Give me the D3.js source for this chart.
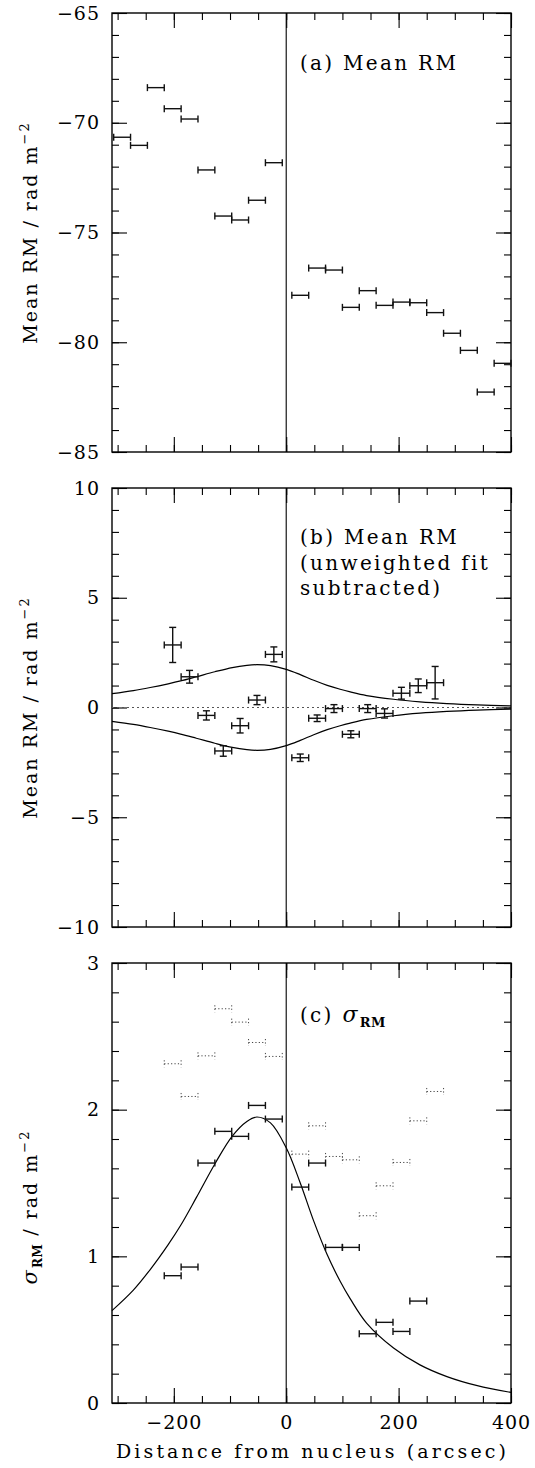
<!DOCTYPE html>
<html><head><meta charset="utf-8">
<script src="https://cdn.jsdelivr.net/npm/d3@7"></script>
<style>body{margin:0;background:#fff}svg{display:block}text{font-family:"DejaVu Serif",serif;fill:#000}</style>
</head><body><svg id="chart" width="535" height="1468"></svg>
<script>
// ---------- data ----------
const binHalf = 15; // arcsec half-width of each bin
// (a) Mean RM
const xA = [-292,-262,-232,-202,-172,-142,-112,-82,-52,-22,25,55,85,115,145,175,205,235,265,295,325,355,385];
const meanA = [-70.66,-71.03,-68.40,-69.36,-69.83,-72.15,-74.25,-74.43,-73.53,-71.82,-77.86,-76.62,-76.71,-78.41,-77.65,-78.32,-78.17,-78.20,-78.65,-79.59,-80.37,-82.27,-80.96];
// (b) Mean RM, fit subtracted
const xB = [-202,-172,-142,-112,-82,-52,-22,25,55,85,115,145,175,205,235,265];
const valB = [2.85,1.40,-0.36,-1.98,-0.83,0.34,2.42,-2.29,-0.49,-0.05,-1.22,-0.05,-0.27,0.65,0.99,1.13];
const errB = [0.80,0.29,0.21,0.24,0.33,0.21,0.34,0.17,0.15,0.18,0.16,0.18,0.21,0.27,0.31,0.74];
// (c) sigma RM
const xC = [-202,-172,-142,-112,-82,-52,-22,25,55,85,115,145,175,205,235];
const sigC = [0.868,0.927,1.636,1.852,1.818,2.029,1.936,1.472,1.636,1.061,1.061,0.472,0.55,0.488,0.695];
const xD = [-202,-172,-142,-112,-82,-52,-22,25,55,85,115,145,175,205,235,265];
const dotD = [2.313,2.09,2.367,2.688,2.597,2.458,2.363,1.697,1.89,1.681,1.658,1.277,1.481,1.64,1.924,2.124];
// model curve
const modelX = [-310,-272,-242,-210,-188,-160,-127,-96,-70,-52,-28,0,25,49,73,96,114,143,191,238,286,340,400];
const modelY = [0.63,0.77,0.91,1.08,1.21,1.40,1.63,1.82,1.92,1.95,1.91,1.74,1.50,1.24,1.01,0.83,0.71,0.545,0.375,0.26,0.18,0.118,0.072];
// tick labels
const xTickLabels = [-200,0,200,400];

// ---------- layout ----------
const svg = d3.select("#chart");
const X0 = 112, X1 = 511;
const x = d3.scaleLinear().domain([-310,400]).range([X0,X1]);
const FS = 19;

const panels = [
  {top:13, bot:452, dom:[-85,-65], major:5, minor:1},
  {top:488, bot:927, dom:[-10,10], major:5, minor:1},
  {top:963, bot:1403, dom:[0,3], major:1, minor:0.2}
];
panels.forEach(p => { p.y = d3.scaleLinear().domain(p.dom).range([p.bot,p.top]); });

function vals(dom, step){
  const out=[]; const n0=Math.ceil(dom[0]/step-1e-9), n1=Math.floor(dom[1]/step+1e-9);
  for(let i=n0;i<=n1;i++) out.push(+(i*step).toFixed(6));
  return out;
}
const xMinor = vals([-310,400],50), xMajor = xTickLabels;

function styleAxis(g){
  g.select(".domain").remove();
  g.selectAll("line").attr("stroke","#000").attr("stroke-width",1.1);
  g.attr("font-family",null).attr("font-size",FS);
  g.selectAll("text").attr("fill","#000").style("letter-spacing","1px");
}

panels.forEach((p,i) => {
  const g = svg.append("g");
  const y = p.y;
  const yMinor = vals(p.dom,p.minor), yMajor = vals(p.dom,p.major);
  g.append("g").attr("transform",`translate(0,${p.bot})`).call(d3.axisBottom(x).tickValues(xMinor).tickSize(-7).tickFormat("")).call(styleAxis);
  const xb = g.append("g").attr("transform",`translate(0,${p.bot})`).call(d3.axisBottom(x).tickValues(xMajor).tickSize(-15).tickPadding(13).tickFormat(i===2?d3.format(""):""));
  styleAxis(xb);
  g.append("g").attr("transform",`translate(0,${p.top})`).call(d3.axisTop(x).tickValues(xMinor).tickSize(-7).tickFormat("")).call(styleAxis);
  g.append("g").attr("transform",`translate(0,${p.top})`).call(d3.axisTop(x).tickValues(xMajor).tickSize(-15).tickFormat("")).call(styleAxis);
  g.append("g").attr("transform",`translate(${X0},0)`).call(d3.axisLeft(y).tickValues(yMinor).tickSize(-7).tickFormat("")).call(styleAxis);
  g.append("g").attr("transform",`translate(${X0},0)`).call(d3.axisLeft(y).tickValues(yMajor).tickSize(-15).tickPadding(12).tickFormat(d3.format(""))).call(styleAxis);
  g.append("g").attr("transform",`translate(${X1},0)`).call(d3.axisRight(y).tickValues(yMinor).tickSize(-7).tickFormat("")).call(styleAxis);
  g.append("g").attr("transform",`translate(${X1},0)`).call(d3.axisRight(y).tickValues(yMajor).tickSize(-15).tickFormat("")).call(styleAxis);
  g.append("rect").attr("x",X0).attr("y",p.top).attr("width",X1-X0).attr("height",p.bot-p.top)
    .attr("fill","none").attr("stroke","#000").attr("stroke-width",1.4);
  g.append("line").attr("x1",x(0)).attr("x2",x(0)).attr("y1",p.top).attr("y2",p.bot).attr("stroke","#000").attr("stroke-width",1.1);
});

function hbars(g, xs, ys, y, opts={}){
  const sel = g.selectAll(null).data(xs.map((c,i)=>({c,v:ys[i]}))).enter().append("g")
    .attr("stroke", opts.color||"#111").attr("stroke-width", opts.w||1.4).attr("fill","none");
  if(opts.dash) sel.attr("stroke-dasharray",opts.dash);
  sel.append("line").attr("x1",d=>x(d.c-binHalf)).attr("x2",d=>x(d.c+binHalf)).attr("y1",d=>y(d.v)).attr("y2",d=>y(d.v));
  sel.append("line").attr("x1",d=>x(d.c-binHalf)).attr("x2",d=>x(d.c-binHalf)).attr("y1",d=>y(d.v)-3.5).attr("y2",d=>y(d.v)+3.5);
  sel.append("line").attr("x1",d=>x(d.c+binHalf)).attr("x2",d=>x(d.c+binHalf)).attr("y1",d=>y(d.v)-3.5).attr("y2",d=>y(d.v)+3.5);
  return sel;
}

// (a)
const ga = svg.append("g");
hbars(ga, xA, meanA, panels[0].y);

// (b)
const gb = svg.append("g"); const yb = panels[1].y;
gb.append("line").attr("x1",X0).attr("x2",X1).attr("y1",yb(0)).attr("y2",yb(0))
  .attr("stroke","#555").attr("stroke-width",1).attr("stroke-dasharray","2,3");
const model = modelX.map((v,i)=>[v,modelY[i]]);
const lineB = s => d3.line().x(d=>x(d[0])).y(d=>yb(s*d[1])).curve(d3.curveCatmullRom.alpha(0.5));
gb.append("path").attr("d",lineB(1)(model)).attr("fill","none").attr("stroke","#000").attr("stroke-width",1.2);
gb.append("path").attr("d",lineB(-1)(model)).attr("fill","none").attr("stroke","#000").attr("stroke-width",1.2);
const pb = hbars(gb, xB, valB, yb);
pb.each(function(d,i){
  const s=d3.select(this), e=errB[i];
  s.append("line").attr("x1",x(d.c)).attr("x2",x(d.c)).attr("y1",yb(d.v+e)).attr("y2",yb(d.v-e));
  s.append("line").attr("x1",x(d.c)-3.5).attr("x2",x(d.c)+3.5).attr("y1",yb(d.v+e)).attr("y2",yb(d.v+e));
  s.append("line").attr("x1",x(d.c)-3.5).attr("x2",x(d.c)+3.5).attr("y1",yb(d.v-e)).attr("y2",yb(d.v-e));
});

// (c)
const gc = svg.append("g"); const yc = panels[2].y;
gc.append("path").attr("d",d3.line().x(d=>x(d[0])).y(d=>yc(d[1])).curve(d3.curveCatmullRom.alpha(0.5))(model))
  .attr("fill","none").attr("stroke","#000").attr("stroke-width",1.2);
hbars(gc, xD, dotD, yc, {dash:"1.2,2.2", color:"#444", w:1});
hbars(gc, xC, sigC, yc);

// ---------- text ----------
function lab(xp,yp,str){
  return svg.append("text").attr("x",xp).attr("y",yp).attr("font-size",20).style("letter-spacing","2.3px").text(str);
}
lab(300,70,"(a) Mean RM");
lab(300,544,"(b) Mean RM");
lab(300,570,"(unweighted fit");
lab(300,595,"subtracted)");
const tc = svg.append("text").attr("x",300).attr("y",1022).attr("font-size",20).style("letter-spacing","2.3px");
tc.append("tspan").text("(c) ");
tc.append("tspan").attr("font-style","italic").attr("font-size",22).text("σ");
tc.append("tspan").attr("font-size",13).attr("font-weight","bold").attr("dy",5).style("letter-spacing","0.5px").text("RM");

function ylab(cy, parts){
  const t = svg.append("text").attr("transform",`translate(37,${cy}) rotate(-90)`).attr("text-anchor","middle")
    .attr("font-size",FS).style("letter-spacing","2px");
  parts(t);
}
ylab(232.5, t=>{ t.append("tspan").text("Mean RM / rad m"); t.append("tspan").attr("font-size",13).attr("dy",-8).text("−2"); });
ylab(707.5, t=>{ t.append("tspan").text("Mean RM / rad m"); t.append("tspan").attr("font-size",13).attr("dy",-8).text("−2"); });
ylab(1207, t=>{
  t.append("tspan").attr("font-style","italic").attr("font-size",21).text("σ");
  t.append("tspan").attr("font-size",12).attr("font-weight","bold").attr("dy",5).style("letter-spacing","0.5px").text("RM");
  t.append("tspan").attr("dy",-5).text(" / rad m");
  t.append("tspan").attr("font-size",13).attr("dy",-8).text("−2");
});

svg.append("text").attr("x",311).attr("y",1458).attr("text-anchor","middle").attr("font-size",FS)
  .attr("textLength",390).attr("lengthAdjust","spacing").text("Distance from nucleus (arcsec)");
</script></body></html>
